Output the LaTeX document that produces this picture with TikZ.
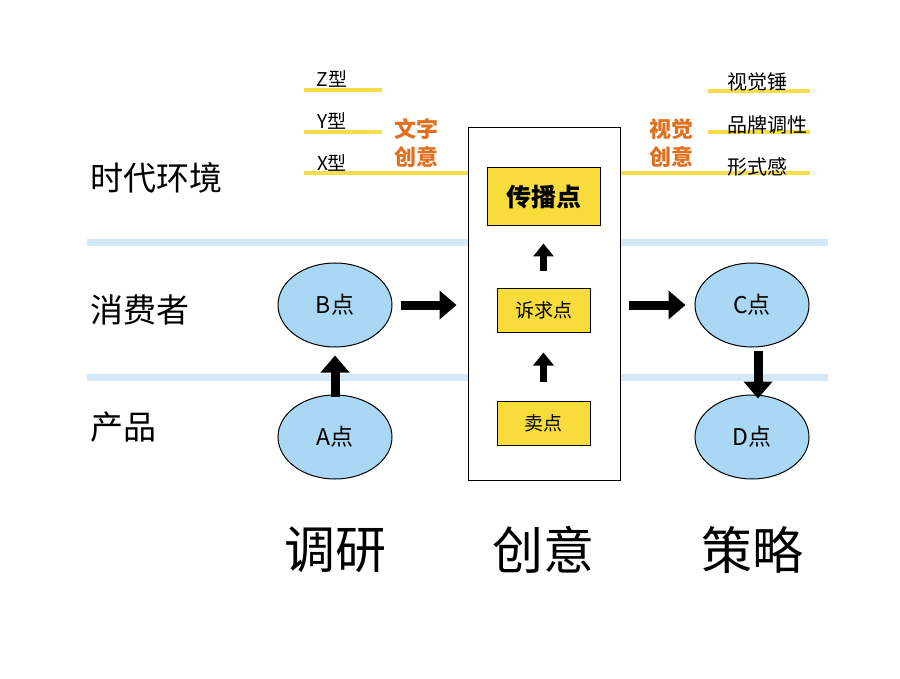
\documentclass[tikz,border=0pt]{standalone}
\usepackage{fontspec}
\setmainfont{Noto Sans CJK SC}
\usetikzlibrary{arrows.meta,shapes.geometric}
\definecolor{lineblue}{HTML}{D3E9F8}
\definecolor{ellblue}{HTML}{A9D7F4}
\definecolor{ylw}{HTML}{F8DC3C}
\definecolor{ylwline}{HTML}{F6DE4A}
\definecolor{orng}{HTML}{E0701E}
\begin{document}
\begin{tikzpicture}[x=1pt,y=-1pt,
  ell/.style={ellipse,draw=black,line width=1pt,fill=ellblue,minimum width=114pt,minimum height=84pt,inner sep=0pt,font=\fontsize{23}{27}\selectfont},
  ybox/.style={rectangle,draw=black,line width=1pt,fill=ylw,inner sep=0pt},
  bigarrow/.style={line width=9pt,-{Triangle[width=28pt,length=17pt]}},
  smallarrow/.style={line width=7pt,-{Triangle[width=20pt,length=13pt]}},
  blueline/.style={lineblue,line width=7pt},
  yline/.style={ylwline,line width=4pt},
  rowlab/.style={font=\fontsize{33}{38}\selectfont,anchor=west},
  toplab/.style={font=\fontsize{19}{22}\selectfont,anchor=base},
  rtoplab/.style={font=\fontsize{20}{23}\selectfont,anchor=base west,inner sep=0pt},
  orlab/.style={font=\fontsize{22}{28}\selectfont\bfseries,text=orng,align=center},
  bottomlab/.style={font=\fontsize{51}{56}\selectfont}
]
\useasboundingbox (0,0) rectangle (900,679);
\fill[white] (0,0) rectangle (900,679);

% blue separators
\draw[blueline] (87,243) -- (828,243);
\draw[blueline] (87,377) -- (828,377);

% central box
\node[draw=black,line width=1pt,minimum width=152pt,minimum height=352pt,inner sep=0pt,fill=white] (box) at (544,304) {};

% yellow lines
\draw[yline] (304,90) -- (382,90);
\draw[yline] (304,132) -- (382,132);
\draw[yline] (304,173) -- (box.west |- 0,173);
\draw[yline] (708,91) -- (810,91);
\draw[yline] (708,132) -- (810,132);
\draw[yline] (box.east |- 0,173) -- (810,173);

% top labels
\node[toplab] (z) at (332,87) {Z型};
\node[toplab] (y) at (332,129) {Y型};
\node[toplab] (x) at (332,171) {X型};
\node[rtoplab] (r1) at (727,90) {视觉锤};
\node[rtoplab] (r2) at (727,133) {品牌调性};
\node[rtoplab] (r3) at (727,175) {形式感};
\node[orlab] (wz) at (416,143) {文字\\创意};
\node[orlab] (sj) at (671,143) {视觉\\创意};

% row labels
\node[rowlab] (era) at (87,178) {时代环境};
\node[rowlab] (cons) at (87,310) {消费者};
\node[rowlab] (prod) at (87,427) {产品};

% inner boxes
\node[ybox,minimum width=113pt,minimum height=58pt,font=\fontsize{25}{29}\selectfont\bfseries] (cb) at (543.5,197) {传播点};
\node[ybox,minimum width=93pt,minimum height=43pt,font=\fontsize{19}{22}\selectfont] (sq) at (543.5,310.5) {诉求点};
\node[ybox,minimum width=93pt,minimum height=44pt,font=\fontsize{19}{22}\selectfont] (md) at (543.5,423) {卖点};

% ellipses
\node[ell] (B) at (335,305) {B点};
\node[ell] (A) at (335,437) {A点};
\node[ell] (C) at (752,305) {C点};
\node[ell] (D) at (752,437) {D点};

% arrows
\draw[bigarrow,shorten <=-2pt,shorten >=8pt] (A.north) -- (B.south);
\draw[bigarrow,shorten <=8pt,shorten >=11pt] (B.east) -- (box.west |- B.east);
\draw[bigarrow,shorten <=8pt,shorten >=9pt] (box.east |- C.west) -- (C.west);
\draw[bigarrow,shorten <=3pt,shorten >=-4pt] ([xshift=6pt]C.south) -- ([xshift=6pt]D.north);
\draw[smallarrow,shorten <=19pt,shorten >=20pt] (md.north) -- (sq.south);
\draw[smallarrow,shorten <=17pt,shorten >=17pt] (sq.north) -- (cb.south);

% bottom labels
\node[bottomlab] (dy) at (335,550) {调研};
\node[bottomlab] (cy) at (543,550) {创意};
\node[bottomlab] (cl) at (752,550) {策略};
\end{tikzpicture}
\end{document}
